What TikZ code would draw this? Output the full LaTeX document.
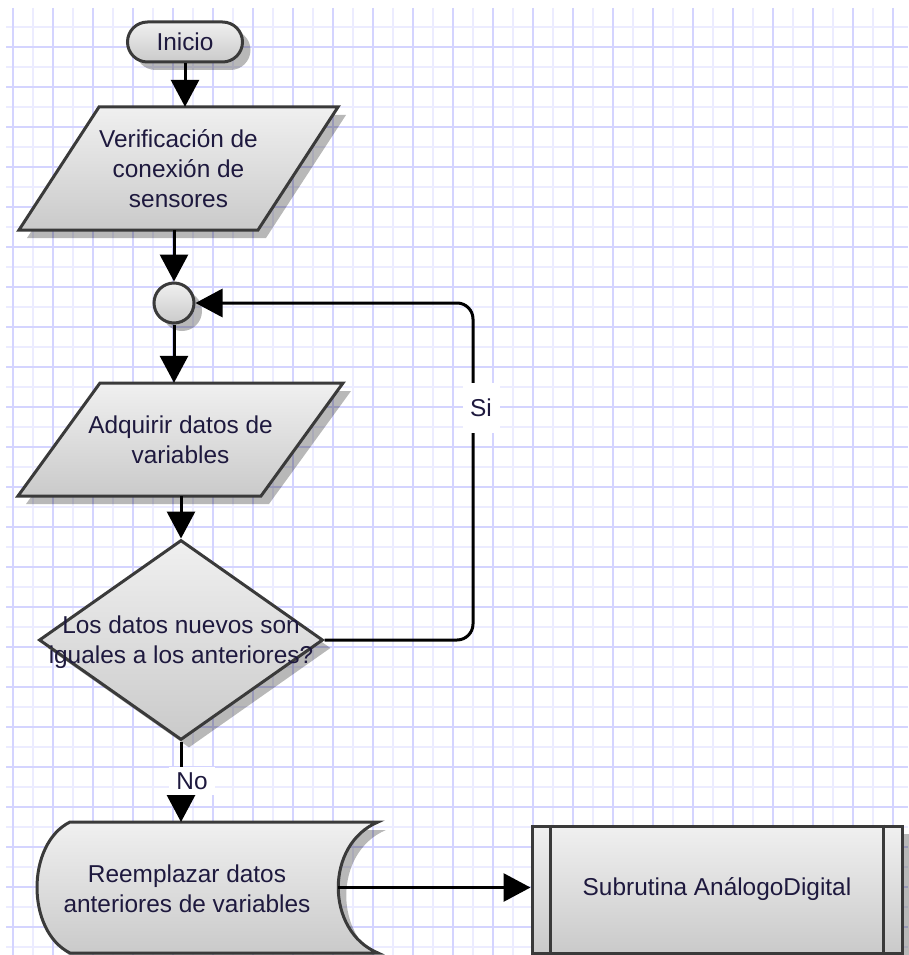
\documentclass[tikz,border=0pt]{standalone}
\usepackage{fontspec}
\setmainfont{Liberation Sans}
\usetikzlibrary{arrows.meta,shadows,calc,shapes.geometric,shapes.misc}

\definecolor{gridmajor}{RGB}{212,212,255}
\definecolor{gridminor}{RGB}{236,236,255}
\definecolor{inkline}{RGB}{58,58,58}
\definecolor{labeltext}{RGB}{30,25,62}
\definecolor{shapetop}{RGB}{240,240,240}
\definecolor{shapebottom}{RGB}{202,202,202}

\tikzset{
  shapefill/.style={draw=inkline, line width=3pt, top color=shapetop, bottom color=shapebottom,
    drop shadow={shadow xshift=8pt, shadow yshift=-8pt, fill=black, opacity=0.28}},
  txt/.style={font=\fontsize{24.4}{30}\selectfont, text=labeltext, align=center, inner sep=0pt},
  flow/.style={draw=black, line width=3pt, -{Triangle[length=27pt,width=28pt]}},
  tag/.style={txt, fill=white},
  gridmin/.style={draw=gridminor, line width=2pt},
  gridmaj/.style={draw=gridmajor, line width=2pt}
}

\begin{document}
\begin{tikzpicture}[x=1pt,y=-1pt]
\useasboundingbox (0,0) rectangle (908,955);
\fill[white] (0,0) rectangle (908,955);

% squared paper background
\foreach \gx in {33,73,...,873} \draw[gridmin] (\gx,8) -- (\gx,955);
\foreach \gy in {27,67,...,947} \draw[gridmin] (6,\gy) -- (908,\gy);
\foreach \gx in {13,53,...,893} \draw[gridmaj] (\gx,8) -- (\gx,955);
\foreach \gy in {47,87,...,927} \draw[gridmaj] (6,\gy) -- (908,\gy);

% start terminal
\node[shapefill, txt, rounded rectangle, minimum width=115pt, minimum height=40pt] (inicio) at (185,42) {Inicio};

% sensor check (input/output parallelogram)
\path[shapefill] (99,107) -- (338,107) -- (258,230) -- (19,230) -- cycle;
\node[txt, minimum width=239pt, minimum height=123pt] (verif) at (178.5,168.5) {Verificación de\\conexión de\\sensores};

% loop junction
\node[shapefill, circle, minimum size=40pt, inner sep=0pt] (junc) at (174,303) {};

% data acquisition (input/output parallelogram)
\path[shapefill] (100,383) -- (343,383) -- (261,496) -- (18,496) -- cycle;
\node[txt, minimum width=243pt, minimum height=113pt] (adq) at (180.5,439.5) {Adquirir datos de\\variables};

% decision
\node[shapefill, diamond, minimum width=284pt, minimum height=200pt, inner sep=0pt] (dec) at (181,640) {};
\node[txt] (dectext) at (181,642) {Los datos nuevos son\\iguales a los anteriores?};

% stored data
\path[shapefill] (70,822) -- (378,822) .. controls (325,844) and (325,931) .. (378,953)
  -- (70,953) .. controls (26,931) and (26,844) .. (70,822) -- cycle;
\node[txt] (reem) at (187,889) {Reemplazar datos\\anteriores de variables};
\coordinate (reemN) at (182,822);
\coordinate (reemE) at (338,887.5);

% predefined process
\node[shapefill, txt, rectangle, minimum width=370pt, minimum height=127pt] (sub) at (717,889.5) {Subrutina AnálogoDigital};
\draw[inkline, line width=3pt] ($(sub.north west)+(20,0)$) -- ($(sub.south west)+(20,0)$);
\draw[inkline, line width=3pt] ($(sub.north east)+(-20,0)$) -- ($(sub.south east)+(-20,0)$);

% connectors
\coordinate (loop) at (473,470);
\draw[flow] (inicio.south) -- (inicio.south |- verif.north);
\draw[flow] (junc |- verif.south) -- (junc.north);
\draw[flow] (junc.south) -- (junc.south |- adq.north);
\draw[flow] (dec.north |- adq.south) -- (dec.north);
\draw[flow, rounded corners=16pt] (dec.east) -| (loop) |- (junc.east);
\node[tag, minimum width=37pt, minimum height=50pt] (si) at (481,408) {Si};
\draw[flow] (dec.south) -- (dec.south |- reemN);
\node[tag, minimum width=46pt, minimum height=28pt] (no) at (192,781) {No};
\draw[flow] (reemE) -- (sub.west |- reemE);
\end{tikzpicture}
\end{document}
